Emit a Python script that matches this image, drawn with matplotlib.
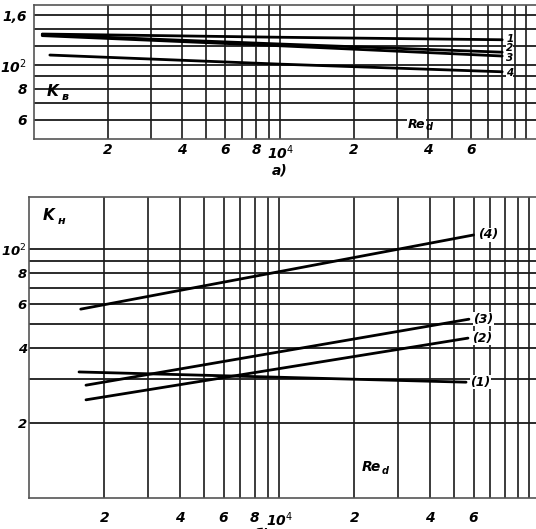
import matplotlib
matplotlib.use("Agg")
import matplotlib.pyplot as plt
import numpy as np

# ---------------- data ----------------
# top chart (a): K_в vs Re_d
top_re = [1080, 10000, 80000]
top_curve1 = [134, 130, 127]
top_curve2 = [133, 122, 113]
top_curve3 = [132, 120, 109]
top_re4 = [1160, 10000, 80000]
top_curve4 = [110, 101, 94]
top_labels = ["1", "2", "3", "4"]

# bottom chart (б): K_н vs Re_d
bot_re4 = [1610, 60000]
bot_curve4 = [57.4, 114]
bot_re3 = [1690, 57500]
bot_curve3 = [28.4, 52.3]
bot_re2 = [1690, 57000]
bot_curve2 = [24.8, 43.9]
bot_re1 = [1585, 56000]
bot_curve1 = [32.1, 29.2]
bot_labels = ["(4)", "(3)", "(2)", "(1)"]

x_ticks = [2e3, 4e3, 6e3, 8e3, 1e4, 2e4, 4e4, 6e4]
x_ticklabels = ["2", "4", "6", "8", "10$^4$", "2", "4", "6"]
top_yticks = [60, 80, 100, 160]
top_yticklabels = ["6", "8", "10$^2$", "1,6"]
bot_yticks = [20, 40, 60, 80, 100]
bot_yticklabels = ["2", "4", "6", "8", "10$^2$"]

top_hgrid = [60, 70, 80, 90, 100, 120, 140, 160]
bot_hgrid = [20, 30, 40, 50, 60, 70, 80, 90, 100]
vgrid = [2e3, 3e3, 4e3, 5e3, 6e3, 7e3, 8e3, 9e3, 1e4,
         2e4, 3e4, 4e4, 5e4, 6e4, 7e4, 8e4, 9e4, 1e5]

# ---------------- figure ----------------
W, H = 536, 529
fig = plt.figure(figsize=(W / 100, H / 100), dpi=100)
fig.patch.set_facecolor("white")

def px_axes(left, top, right, bottom):
    return fig.add_axes([left / W, 1 - bottom / H, (right - left) / W, (bottom - top) / H])

tick_font = dict(fontsize=10, fontweight="bold", fontstyle="italic", family="DejaVu Sans")

# top axes
ax1 = px_axes(34, 5, 34 + 2.114 * 246, 139)
ax1.set_xscale("log")
ax1.set_yscale("log")
ax1.set_xlim(1e3, 1.3e5)
ax1.set_ylim(50, 176)

# bottom axes
ax2 = px_axes(29, 197, 29 + 2.114 * 250, 498)
ax2.set_xscale("log")
ax2.set_yscale("log")
ax2.set_xlim(1e3, 1.3e5)
ax2.set_ylim(10, 162)

for ax, hg in ((ax1, top_hgrid), (ax2, bot_hgrid)):
    for v in vgrid:
        ax.axvline(v, color="#1a1a1a", lw=1.2, zorder=1)
    for h in hg:
        ax.axhline(h, color="#1a1a1a", lw=1.3, zorder=1)
    ax.minorticks_off()
    ax.set_xticks(x_ticks)
    ax.set_xticklabels(x_ticklabels, **tick_font)
    ax.tick_params(length=0)
    for s in ax.spines.values():
        s.set_color("#555555")
        s.set_linewidth(1.2)

ax1.set_yticks(top_yticks)
ax1.set_yticklabels(top_yticklabels, **tick_font)
ax1.tick_params(axis="x", pad=3)
ax1.tick_params(axis="y", pad=5)
ax2.set_yticks(bot_yticks)
ax2.set_yticklabels(bot_yticklabels, fontsize=9.5, fontweight="bold",
                    fontstyle="italic", family="DejaVu Sans")
ax2.tick_params(axis="x", pad=9)
ax2.tick_params(axis="y", pad=1.5)

# top curves
for ys, xs in ((top_curve1, top_re), (top_curve2, top_re), (top_curve3, top_re), (top_curve4, top_re4)):
    ax1.plot(xs, ys, color="black", lw=2.0, zorder=3, solid_capstyle="round")
lab_y = [128, 117, 106.5, 93]
for lab, yy in zip(top_labels, lab_y):
    ax1.text(83000, yy, lab, fontsize=7.5, fontweight="bold", fontstyle="italic",
             ha="left", va="center", zorder=4,
             bbox=dict(facecolor="white", edgecolor="none", pad=0.1))

# bottom curves
for xs, ys in ((bot_re4, bot_curve4), (bot_re3, bot_curve3), (bot_re2, bot_curve2), (bot_re1, bot_curve1)):
    ax2.plot(xs, ys, color="black", lw=2.0, zorder=3, solid_capstyle="round")
bot_lab_pos = [(bot_re4[-1], bot_curve4[-1]), (bot_re3[-1], bot_curve3[-1]),
               (bot_re2[-1], bot_curve2[-1]), (bot_re1[-1], bot_curve1[-1])]
for lab, (xx, yy) in zip(bot_labels, bot_lab_pos):
    ax2.text(xx * 1.04, yy, lab, fontsize=9, fontweight="bold", fontstyle="italic",
             ha="left", va="center", zorder=4,
             bbox=dict(facecolor="white", edgecolor="none", pad=0.2))

# axis names
ax1.text(1130, 78, "K", fontsize=11, fontweight="bold", fontstyle="italic",
         ha="left", va="center", zorder=4)
ax1.text(1300, 74, "в", fontsize=8, fontweight="bold", fontstyle="italic",
         ha="left", va="center", zorder=4)
ax1.text(33000, 57.5, "Re", fontsize=9, fontweight="bold", fontstyle="italic",
         ha="left", va="center", zorder=4,
         bbox=dict(facecolor="white", edgecolor="none", pad=0.5))
ax1.text(39000, 56, "d", fontsize=7, fontweight="bold", fontstyle="italic",
         ha="left", va="center", zorder=5)

ax2.text(1130, 136, "K", fontsize=11, fontweight="bold", fontstyle="italic",
         ha="left", va="center", zorder=4)
ax2.text(1300, 130, "н", fontsize=8, fontweight="bold", fontstyle="italic",
         ha="left", va="center", zorder=4)
ax2.text(21500, 13.3, "Re", fontsize=10, fontweight="bold", fontstyle="italic",
         ha="left", va="center", zorder=4)
ax2.text(25800, 12.8, "d", fontsize=7, fontweight="bold", fontstyle="italic",
         ha="left", va="center", zorder=4)

fig.text(280 / W, 1 - 171 / H, "а)", fontsize=10, fontstyle="italic",
         fontweight="bold", ha="center", va="center")
fig.text(262 / W, 1 - 534 / H, "б)", fontsize=10, fontstyle="italic",
         fontweight="bold", ha="center", va="center")

fig.savefig("out.png", dpi=100, facecolor="white")
